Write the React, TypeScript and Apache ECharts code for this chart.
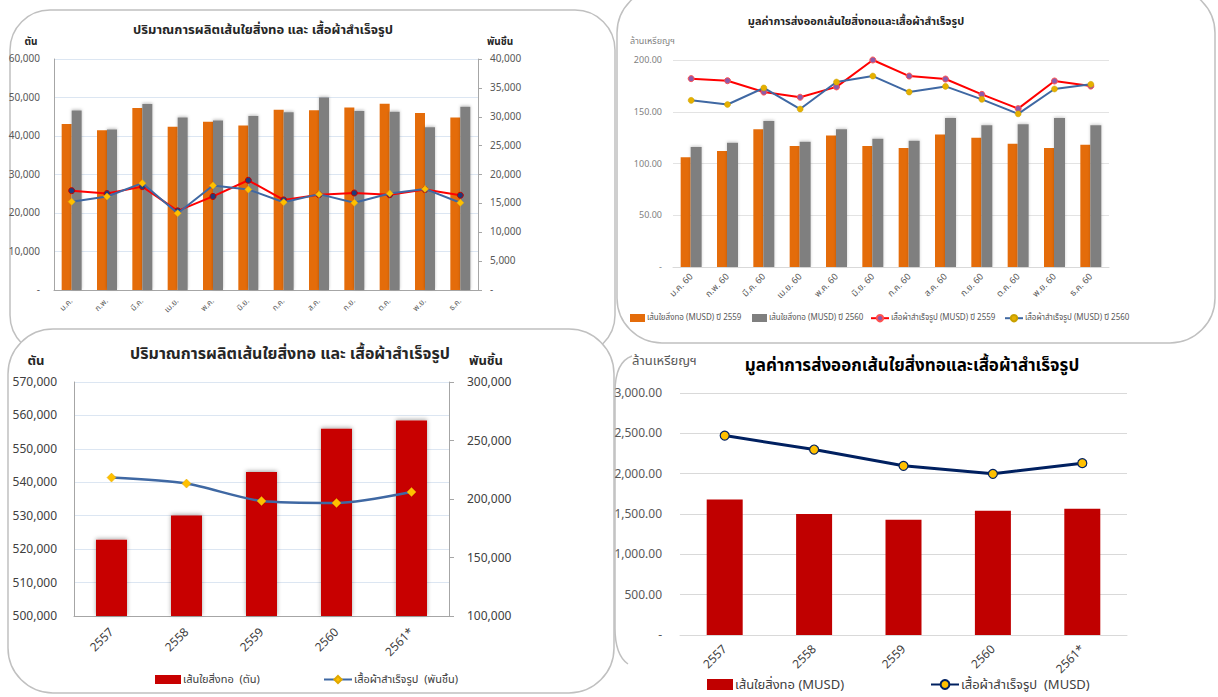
import React, { useEffect, useRef } from 'react';
import * as echarts from 'echarts';

const FONT = "Tahoma, 'Noto Sans Thai', 'Leelawadee UI', Garuda, Loma, 'Noto Sans', 'DejaVu Sans', sans-serif";

// Chart 1: monthly production quantity
const months1 = ['ม.ค.', 'ก.พ.', 'มี.ค.', 'เม.ย.', 'พ.ค.', 'มิ.ย.', 'ก.ค.', 'ส.ค.', 'ก.ย.', 'ต.ค.', 'พ.ย.', 'ธ.ค.'];
const fiberQty2559 = [43100, 41500, 47300, 42400, 43700, 42700, 46800, 46700, 47400, 48400, 46000, 44800];
const fiberQty2560 = [46600, 41700, 48300, 44800, 44000, 45200, 46200, 50000, 46500, 46300, 42300, 47600];
const garmentQty2559 = [17200, 16700, 17900, 13700, 16200, 19000, 15600, 16500, 16800, 16500, 17400, 16400];
const garmentQty2560 = [15300, 16200, 18500, 13300, 18100, 17400, 15200, 16600, 15100, 16700, 17500, 15100];

// Chart 2: monthly export value
const months2 = ['ม.ค. 60', 'ก.พ. 60', 'มี.ค. 60', 'เม.ย. 60', 'พ.ค. 60', 'มิ.ย. 60', 'ก.ค. 60', 'ส.ค. 60', 'ก.ย. 60', 'ต.ค. 60', 'พ.ย. 60', 'ธ.ค. 60'];
const fiberVal2559 = [106, 112, 133, 117, 127, 117, 115, 128, 125, 119, 115, 118];
const fiberVal2560 = [116, 120, 141, 121, 133, 124, 122, 144, 137, 138, 144, 137];
const garmentVal2559 = [182, 180, 169, 164, 174, 200, 184.5, 181.6, 166.8, 153, 179.7, 174.8];
const garmentVal2560 = [161, 157, 173, 152.6, 178.7, 184.5, 169, 174.5, 162, 148, 172, 176.5];

// Chart 3 & 4: yearly
const years = ['2557', '2558', '2559', '2560', '2561*'];
const fiberQtyYear = [522800, 530100, 543100, 556000, 558500];
const garmentQtyYear = [218300, 213200, 198300, 196600, 206000];
const fiberValYear = [1681, 1500, 1430, 1541, 1566];
const garmentValYear = [2472, 2299, 2097, 1998, 2130];

const TITLE_QTY = 'ปริมาณการผลิตเส้นใยสิ่งทอ และ เสื้อผ้าสำเร็จรูป';
const TITLE_VAL = 'มูลค่าการส่งออกเส้นใยสิ่งทอและเสื้อผ้าสำเร็จรูป';

const comma = (v: number) => (v === 0 ? '-' : v.toLocaleString('en-US'));
const comma2 = (v: number) =>
  v === 0 ? '-' : v.toLocaleString('en-US', { minimumFractionDigits: 2, maximumFractionDigits: 2 });
const plainComma = (v: number) => v.toLocaleString('en-US');

const S_F1_59 = 'เส้นใยสิ่งทอ (ตัน) ปี 2559';
const S_F1_60 = 'เส้นใยสิ่งทอ (ตัน) ปี 2560';
const S_G1_59 = 'เสื้อผ้าสำเร็จรูป (พันชิ้น) ปี 2559';
const S_G1_60 = 'เสื้อผ้าสำเร็จรูป (พันชิ้น) ปี 2560';
const S_F2_59 = 'เส้นใยสิ่งทอ (MUSD) ปี 2559';
const S_F2_60 = 'เส้นใยสิ่งทอ (MUSD) ปี 2560';
const S_G2_59 = 'เสื้อผ้าสำเร็จรูป (MUSD) ปี 2559';
const S_G2_60 = 'เสื้อผ้าสำเร็จรูป (MUSD) ปี 2560';
const S_F3 = 'เส้นใยสิ่งทอ  (ตัน)';
const S_G3 = 'เสื้อผ้าสำเร็จรูป  (พันชิ้น)';
const S_F4 = 'เส้นใยสิ่งทอ (MUSD)';
const S_G4 = 'เสื้อผ้าสำเร็จรูป  (MUSD)';

export default function App() {
  const ref = useRef<HTMLDivElement>(null);
  useEffect(() => {
    if (!ref.current) return;
    echarts.graphic.registerShape(
      'panelEdge',
      echarts.graphic.extendPath('M 632 356 Q 615 362 615 392 L 615 628 Q 615 655 628 664', {})
    );
    const chart = echarts.init(ref.current, null, { renderer: 'svg' });
    const txt = (text: string, x: number, y: number, size: number, color: string, weight = 'normal', align = 'center') => ({
      type: 'text',
      x,
      y,
      z: 10,
      style: {
        text,
        fill: color,
        font: `${weight} ${size}px ${FONT}`,
        align,
        textAlign: align,
        verticalAlign: 'middle',
        textVerticalAlign: 'middle',
      },
    });
    const legendBase = (name: string, left: number, top: number, size: number, color: string, iw: number, ih: number) => ({
      data: [name],
      left,
      top,
      itemWidth: iw,
      itemHeight: ih,
      padding: 0,
      selectedMode: false,
      textStyle: { fontSize: size, color, fontFamily: FONT, padding: [0, 0, 0, -3] },
    });
    const option: any = {
      animation: false,
      backgroundColor: '#ffffff',
      textStyle: { fontFamily: FONT },
      graphic: [
        { type: 'rect', z: -10, shape: { x: 10, y: 10, width: 605, height: 345, r: 40 }, style: { fill: '#fff', stroke: '#c0c0c0', lineWidth: 1.5 } },
        { type: 'rect', z: -10, shape: { x: 617, y: -12, width: 598, height: 355, r: 45 }, style: { fill: '#fff', stroke: '#c0c0c0', lineWidth: 1.5 } },
        { type: 'rect', z: -9, shape: { x: 8, y: 329, width: 606, height: 364, r: 45 }, style: { fill: '#fff', stroke: '#c0c0c0', lineWidth: 1.5 } },
        { type: 'panelEdge', z: -9, x: 0, y: 0, style: { fill: 'none', stroke: '#c0c0c0', lineWidth: 1.5 } },
        txt(TITLE_QTY, 263, 30, 13, '#262626', 'bold'),
        txt('ตัน', 31, 42, 10, '#262626', 'bold'),
        txt('พันชิ้น', 500, 42, 10, '#262626', 'bold'),
        txt(TITLE_VAL, 856, 21, 11, '#262626', 'bold'),
        txt('ล้านเหรียญฯ', 630, 41, 9, '#7f7f7f', 'normal', 'left'),
        txt(TITLE_QTY, 290, 354, 16, '#262626', 'bold'),
        txt('ตัน', 36, 361, 13, '#262626', 'bold'),
        txt('พันชิ้น', 486, 361, 13, '#262626', 'bold'),
        txt('ล้านเหรียญฯ', 632, 361, 13, '#595959', 'normal', 'left'),
        txt(TITLE_VAL, 912, 366, 17, '#000000', 'bold'),
      ],
      legend: [
        { ...legendBase(S_F2_59, 630, 314, 8, '#595959', 15, 8), icon: 'rect' },
        { ...legendBase(S_F2_60, 752, 314, 8, '#595959', 15, 8), icon: 'rect' },
        legendBase(S_G2_59, 870, 314, 8, '#595959', 18, 8),
        legendBase(S_G2_60, 1004, 314, 8, '#595959', 18, 8),
        { ...legendBase(S_F3, 155, 674, 11, '#404040', 26, 9), icon: 'rect' },
        legendBase(S_G3, 323, 674, 11, '#404040', 28, 9),
        { ...legendBase(S_F4, 707, 678, 13, '#404040', 26, 11), icon: 'rect' },
        legendBase(S_G4, 930, 678, 13, '#404040', 28, 11),
      ],
      grid: [
        { left: 54, top: 59, width: 424, height: 231 },
        { left: 673, top: 60, width: 436, height: 207 },
        { left: 74, top: 382, width: 375, height: 234 },
        { left: 680, top: 393, width: 447, height: 242 },
      ],
      xAxis: [
        {
          gridIndex: 0, type: 'category', data: months1,
          axisTick: { show: false }, axisLine: { lineStyle: { color: '#a6a6a6' } },
          axisLabel: { rotate: 45, interval: 0, fontSize: 8, color: '#595959', margin: 10 },
        },
        {
          gridIndex: 1, type: 'category', data: months2,
          axisTick: { show: false }, axisLine: { lineStyle: { color: '#d9d9d9' } },
          axisLabel: { rotate: 45, interval: 0, fontSize: 9, color: '#595959', margin: 8 },
        },
        {
          gridIndex: 2, type: 'category', data: years,
          axisTick: { show: false }, axisLine: { lineStyle: { color: '#a6a6a6' } },
          axisLabel: { rotate: 45, interval: 0, fontSize: 12, color: '#404040', margin: 14 },
        },
        {
          gridIndex: 3, type: 'category', data: years,
          axisTick: { show: false }, axisLine: { lineStyle: { color: '#d9d9d9' } },
          axisLabel: { rotate: 45, interval: 0, fontSize: 12, color: '#404040', margin: 12 },
        },
      ],
      yAxis: [
        {
          gridIndex: 0, type: 'value', min: 0, max: 60000, interval: 10000,
          axisLine: { show: true, lineStyle: { color: '#a6a6a6' } }, axisTick: { show: false },
          splitLine: { lineStyle: { color: '#dce6f2' } },
          axisLabel: { fontSize: 10, color: '#595959', margin: 14, formatter: comma },
        },
        {
          gridIndex: 0, type: 'value', position: 'right', min: 0, max: 40000, interval: 5000,
          axisLine: { show: true, lineStyle: { color: '#a6a6a6' } },
          axisTick: { show: true, length: 4, lineStyle: { color: '#a6a6a6' } },
          splitLine: { show: false },
          axisLabel: { fontSize: 10, color: '#595959', margin: 12, formatter: comma },
        },
        {
          gridIndex: 1, type: 'value', min: 0, max: 200, interval: 50,
          axisLine: { show: false }, axisTick: { show: false },
          splitLine: { lineStyle: { color: '#e3e3e3' } },
          axisLabel: { fontSize: 9, color: '#7f7f7f', margin: 11, formatter: comma2 },
        },
        {
          gridIndex: 2, type: 'value', min: 500000, max: 570000, interval: 10000, startValue: 500000,
          axisLine: { show: true, lineStyle: { color: '#a6a6a6' } }, axisTick: { show: false },
          splitLine: { lineStyle: { color: '#dce6f2' } },
          axisLabel: { fontSize: 12, color: '#404040', margin: 17, formatter: plainComma },
        },
        {
          gridIndex: 2, type: 'value', position: 'right', min: 100000, max: 300000, interval: 50000,
          axisLine: { show: true, lineStyle: { color: '#a6a6a6' } },
          axisTick: { show: true, length: 5, lineStyle: { color: '#a6a6a6' } },
          splitLine: { show: false },
          axisLabel: { fontSize: 12, color: '#404040', margin: 18, formatter: plainComma },
        },
        {
          gridIndex: 3, type: 'value', min: 0, max: 3000, interval: 500,
          axisLine: { show: false }, axisTick: { show: false },
          splitLine: { lineStyle: { color: '#d9d9d9' } },
          axisLabel: { fontSize: 12, color: '#595959', margin: 18, formatter: comma2 },
        },
      ],
      series: [
        // Chart 1
        {
          name: S_F1_59, type: 'bar', xAxisIndex: 0, yAxisIndex: 0, data: fiberQty2559,
          barWidth: 10, barGap: '0%', itemStyle: { color: '#e46c0a' },
        },
        {
          name: S_F1_60, type: 'bar', xAxisIndex: 0, yAxisIndex: 0, data: fiberQty2560,
          barWidth: 10, barGap: '0%',
          itemStyle: { color: '#7f7f7f', shadowColor: 'rgba(0,0,0,0.25)', shadowBlur: 3, shadowOffsetY: -1 },
        },
        {
          name: S_G1_59, type: 'line', xAxisIndex: 0, yAxisIndex: 1, data: garmentQty2559,
          symbol: 'circle', symbolSize: 6, z: 3,
          lineStyle: { color: '#ff0000', width: 2 },
          itemStyle: { color: '#1f3b7a', borderColor: '#c00000', borderWidth: 1 },
        },
        {
          name: S_G1_60, type: 'line', xAxisIndex: 0, yAxisIndex: 1, data: garmentQty2560,
          symbol: 'diamond', symbolSize: 7, z: 4,
          lineStyle: { color: '#3f68a3', width: 2 },
          itemStyle: { color: '#ffc000', borderColor: '#f0b000', borderWidth: 0.5 },
        },
        // Chart 2
        {
          name: S_F2_59, type: 'bar', xAxisIndex: 1, yAxisIndex: 2, data: fiberVal2559,
          barWidth: 10, barGap: '0%', itemStyle: { color: '#e46c0a' },
        },
        {
          name: S_F2_60, type: 'bar', xAxisIndex: 1, yAxisIndex: 2, data: fiberVal2560,
          barWidth: 11, barGap: '0%',
          itemStyle: { color: '#7f7f7f', shadowColor: 'rgba(0,0,0,0.2)', shadowBlur: 3, shadowOffsetY: -1 },
        },
        {
          name: S_G2_59, type: 'line', xAxisIndex: 1, yAxisIndex: 2, data: garmentVal2559,
          symbol: 'circle', symbolSize: 6, z: 3,
          lineStyle: { color: '#ff0000', width: 2 },
          itemStyle: { color: '#8e5aa8', borderColor: '#ff5050', borderWidth: 1 },
        },
        {
          name: S_G2_60, type: 'line', xAxisIndex: 1, yAxisIndex: 2, data: garmentVal2560,
          symbol: 'circle', symbolSize: 6, z: 4,
          lineStyle: { color: '#3f68a3', width: 2 },
          itemStyle: { color: '#e6b000', borderColor: '#c8a000', borderWidth: 0.5 },
        },
        // Chart 3
        {
          name: S_F3, type: 'bar', xAxisIndex: 2, yAxisIndex: 3, data: fiberQtyYear,
          barWidth: 31, clip: true,
          itemStyle: { color: '#c80000', shadowColor: 'rgba(0,0,0,0.35)', shadowBlur: 4, shadowOffsetY: -1 },
        },
        {
          name: S_G3, type: 'line', xAxisIndex: 2, yAxisIndex: 4, data: garmentQtyYear,
          smooth: 0.25, symbol: 'diamond', symbolSize: 9, z: 4,
          lineStyle: { color: '#3f68a3', width: 2.5 },
          itemStyle: { color: '#ffc000', borderColor: '#e0a800', borderWidth: 0.5 },
        },
        // Chart 4
        {
          name: S_F4, type: 'bar', xAxisIndex: 3, yAxisIndex: 5, data: fiberValYear,
          barWidth: 36, itemStyle: { color: '#c00000' },
        },
        {
          name: S_G4, type: 'line', xAxisIndex: 3, yAxisIndex: 5, data: garmentValYear,
          symbol: 'circle', symbolSize: 9, z: 4,
          lineStyle: { color: '#002060', width: 3 },
          itemStyle: { color: '#ffc000', borderColor: '#002060', borderWidth: 1.2 },
        },
      ],
    };
    chart.setOption(option);
    return () => chart.dispose();
  }, []);
  return <div ref={ref} style={{ position: 'absolute', left: 0, top: 0, width: 1218, height: 697 }} />;
}
